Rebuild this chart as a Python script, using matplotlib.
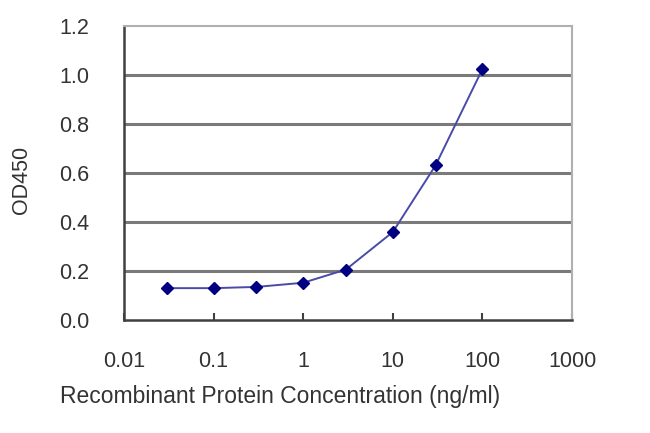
import matplotlib
matplotlib.use("Agg")
import matplotlib.pyplot as plt

concentration = [0.03, 0.1, 0.3, 1, 3, 10, 30, 100]
od450 = [0.13, 0.13, 0.135, 0.152, 0.206, 0.359, 0.631, 1.024]
x_ticks = [0.01, 0.1, 1, 10, 100, 1000]
x_tick_labels = ["0.01", "0.1", "1", "10", "100", "1000"]
y_ticks = [0.0, 0.2, 0.4, 0.6, 0.8, 1.0, 1.2]
y_tick_labels = ["0.0", "0.2", "0.4", "0.6", "0.8", "1.0", "1.2"]

plt.rcParams['font.family'] = ['Liberation Sans', 'DejaVu Sans']
text_color = '#333333'

fig = plt.figure(figsize=(6.5, 4.33), dpi=100)
ax = fig.add_axes([124/650, 1-320/433, (572-124)/650, (320-26)/433])
ax.set_xscale('log')
ax.set_xlim(0.01, 1000)
ax.set_ylim(0, 1.2)

for y in y_ticks[1:-1]:
    ax.axhline(y, color='#7a7a7a', lw=2.2, zorder=1)

ax.plot(concentration, od450, color='#4a4aa8', lw=1.4, zorder=3)
ax.plot(concentration, od450, linestyle='none', marker='D', ms=6.5,
        color='#000080', zorder=4)

ax.set_xticks(x_ticks)
ax.set_xticklabels(x_tick_labels)
ax.xaxis.set_minor_locator(matplotlib.ticker.NullLocator())
ax.set_yticks(y_ticks)
ax.set_yticklabels(y_tick_labels)

ax.tick_params(axis='x', direction='in', length=5, width=1.5, color='#404040',
               labelsize=15.5, labelcolor=text_color, pad=22)
ax.tick_params(axis='y', direction='in', length=0, labelsize=15.5,
               labelcolor=text_color, pad=25)

for side in ['left', 'bottom']:
    ax.spines[side].set_color('#404040')
    ax.spines[side].set_linewidth(1.8)
for side in ['top', 'right']:
    ax.spines[side].set_color('#b0b0b0')
    ax.spines[side].set_linewidth(1.5)

ax.set_xlabel('Recombinant Protein Concentration (ng/ml)', fontsize=16.5,
              color=text_color)
ax.xaxis.set_label_coords((280-124)/448, (320-397)/294)
ax.xaxis.label.set_va('center')
ax.set_ylabel('OD450', fontsize=15.5, color=text_color)
ax.yaxis.set_label_coords((22-124)/448, (320-180)/294)
ax.yaxis.label.set_va('center')

fig.savefig('out.png', dpi=100, facecolor='white')
